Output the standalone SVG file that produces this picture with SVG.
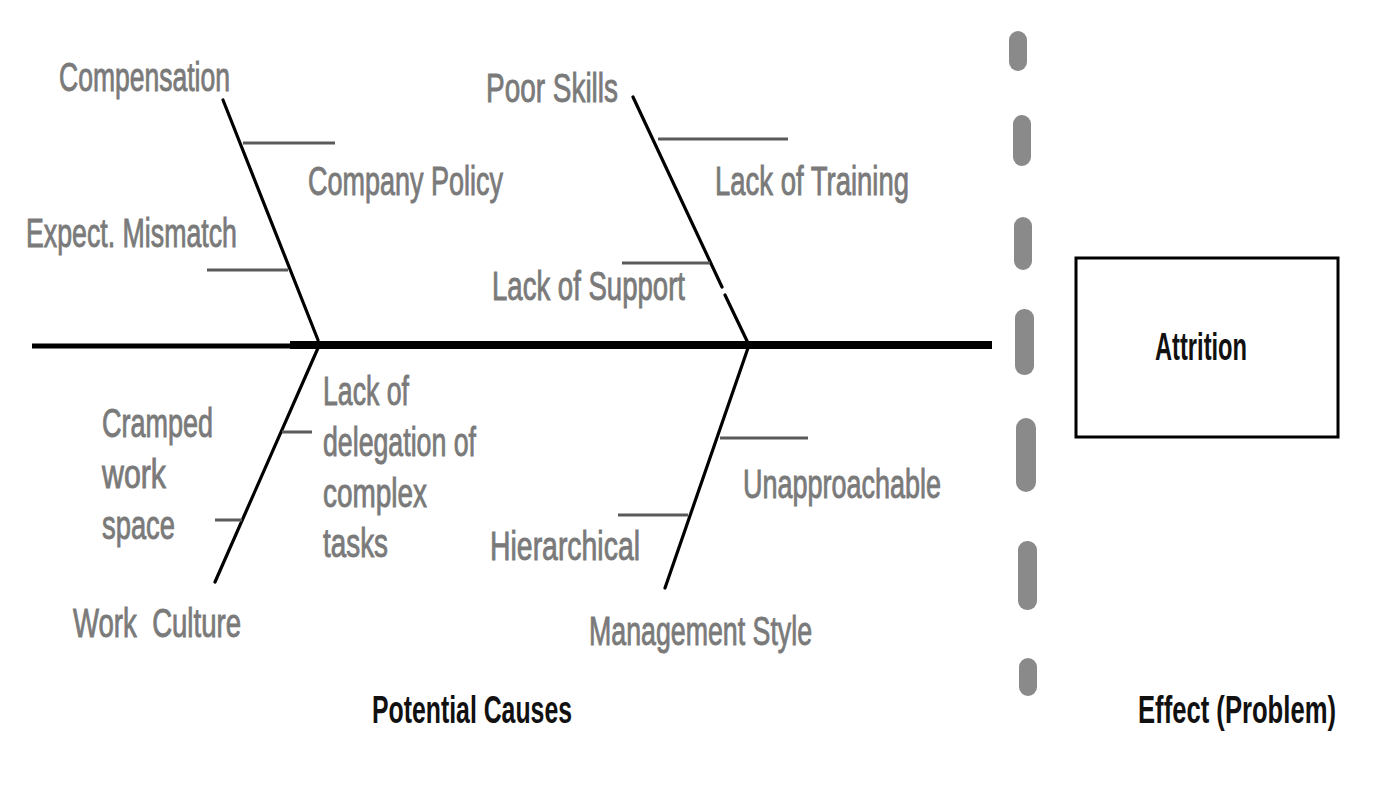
<svg xmlns="http://www.w3.org/2000/svg" width="1383" height="800" viewBox="0 0 1383 800">
<style>
.lbl{font-family:"Liberation Sans","Arial",sans-serif;font-size:40px;fill:#7a7a7a;stroke:#7a7a7a;stroke-width:0.9}
.dark{font-family:"Liberation Sans","Arial",sans-serif;font-size:38px;fill:#111;font-weight:bold}
.bone{stroke:#000;stroke-width:3.2;fill:none;stroke-linecap:round}
.sub{stroke:#5a5a5a;stroke-width:3;fill:none}
.dash{fill:#8a8a8a}
</style>
<rect width="1383" height="800" fill="#fff"/>
<g id="connectors">
<line x1="32" y1="346" x2="300" y2="346" stroke="#000" stroke-width="5"/>
<line x1="290" y1="345" x2="992" y2="345" stroke="#000" stroke-width="8"/>
<line class="bone" x1="223" y1="100" x2="318" y2="340"/>
<line class="bone" x1="633" y1="97" x2="722" y2="287"/>
<line class="bone" x1="725" y1="295" x2="748" y2="343"/>
<line class="bone" x1="318" y1="348" x2="215" y2="582"/>
<line class="bone" x1="748" y1="348" x2="665" y2="588"/>
<line class="sub" x1="243" y1="143" x2="335" y2="143"/>
<line class="sub" x1="207" y1="270" x2="288" y2="270"/>
<line class="sub" x1="658" y1="139" x2="788" y2="139"/>
<line class="sub" x1="622" y1="263" x2="710" y2="263"/>
<line class="sub" x1="282" y1="432" x2="312" y2="432"/>
<line class="sub" x1="215" y1="520" x2="242" y2="520"/>
<line class="sub" x1="720" y1="438" x2="808" y2="438"/>
<line class="sub" x1="618" y1="515" x2="688" y2="515"/>
</g>
<g id="divider">
<rect class="dash" x="1009" y="31" width="18" height="40" rx="9"/>
<rect class="dash" x="1013" y="115" width="18" height="51" rx="9"/>
<rect class="dash" x="1014" y="217" width="18" height="53" rx="9"/>
<rect class="dash" x="1015" y="309" width="19" height="66" rx="9"/>
<rect class="dash" x="1016" y="418" width="20" height="74" rx="10"/>
<rect class="dash" x="1018" y="541" width="19" height="69" rx="9"/>
<rect class="dash" x="1019" y="658" width="18" height="38" rx="9"/>
</g>
<g id="compensation"><text class="lbl" x="59" y="91" textLength="171" lengthAdjust="spacingAndGlyphs">Compensation</text></g>
<g id="company-policy"><text class="lbl" x="308" y="195" textLength="195" lengthAdjust="spacingAndGlyphs">Company Policy</text></g>
<g id="expect-mismatch"><text class="lbl" x="26" y="247" textLength="211" lengthAdjust="spacingAndGlyphs">Expect. Mismatch</text></g>
<g id="poor-skills"><text class="lbl" x="486" y="102" textLength="132" lengthAdjust="spacingAndGlyphs">Poor Skills</text></g>
<g id="lack-of-training"><text class="lbl" x="715" y="195" textLength="194" lengthAdjust="spacingAndGlyphs">Lack of Training</text></g>
<g id="lack-of-support"><text class="lbl" x="492" y="300" textLength="193" lengthAdjust="spacingAndGlyphs">Lack of Support</text></g>
<g id="lack-of-delegation">
<text class="lbl" x="323" y="405" textLength="86" lengthAdjust="spacingAndGlyphs">Lack of</text>
<text class="lbl" x="323" y="456" textLength="153" lengthAdjust="spacingAndGlyphs">delegation of</text>
<text class="lbl" x="323" y="507" textLength="104" lengthAdjust="spacingAndGlyphs">complex</text>
<text class="lbl" x="323" y="557" textLength="65" lengthAdjust="spacingAndGlyphs">tasks</text>
</g>
<g id="cramped-work-space">
<text class="lbl" x="102" y="437" textLength="111" lengthAdjust="spacingAndGlyphs">Cramped</text>
<text class="lbl" x="102" y="488" textLength="64" lengthAdjust="spacingAndGlyphs">work</text>
<text class="lbl" x="102" y="539" textLength="73" lengthAdjust="spacingAndGlyphs">space</text>
</g>
<g id="work-culture"><text class="lbl" x="73" y="637" textLength="168" lengthAdjust="spacingAndGlyphs" xml:space="preserve">Work  Culture</text></g>
<g id="unapproachable"><text class="lbl" x="743" y="498" textLength="198" lengthAdjust="spacingAndGlyphs">Unapproachable</text></g>
<g id="hierarchical"><text class="lbl" x="490" y="560" textLength="150" lengthAdjust="spacingAndGlyphs">Hierarchical</text></g>
<g id="management-style"><text class="lbl" x="589" y="645" textLength="223" lengthAdjust="spacingAndGlyphs">Management Style</text></g>
<g id="attrition">
<rect x="1076" y="258" width="262" height="179" fill="#fff" stroke="#000" stroke-width="3"/>
<text class="dark" x="1155" y="360" font-size="32" textLength="92" lengthAdjust="spacingAndGlyphs">Attrition</text>
</g>
<g id="potential-causes"><text class="dark" x="372" y="723" textLength="200" lengthAdjust="spacingAndGlyphs">Potential Causes</text></g>
<g id="effect-problem"><text class="dark" x="1138" y="723" font-size="36" textLength="198" lengthAdjust="spacingAndGlyphs">Effect (Problem)</text></g>
</svg>
